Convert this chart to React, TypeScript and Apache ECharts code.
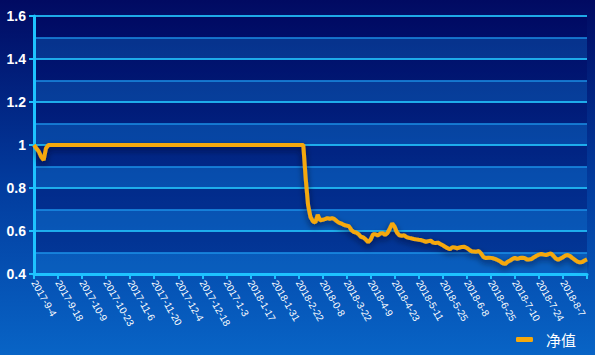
import React, { useEffect, useRef } from "react";
import * as echarts from "echarts";

const tickLabels = [
  "2017-9-4", "2017-9-18", "2017-10-9", "2017-10-23", "2017-11-6", "2017-11-20",
  "2017-12-4", "2017-12-18", "2017-1-3", "2018-1-17", "2018-1-31", "2018-2-22",
  "2018-0-8", "2018-3-22", "2018-4-9", "2018-4-23", "2018-5-11", "2018-5-25",
  "2018-6-8", "2018-6-25", "2018-7-10", "2018-7-24", "2018-8-7",
];

const seriesName = "净值";

// daily net value, one per trading day (index 0..230)
const netValues = [
  1.0, 0.985, 0.97, 0.945, 0.93, 0.985, 1.0, 1, 1, 1,
  1, 1, 1, 1, 1, 1, 1, 1, 1, 1,
  1, 1, 1, 1, 1, 1, 1, 1, 1, 1,
  1, 1, 1, 1, 1, 1, 1, 1, 1, 1,
  1, 1, 1, 1, 1, 1, 1, 1, 1, 1,
  1, 1, 1, 1, 1, 1, 1, 1, 1, 1,
  1, 1, 1, 1, 1, 1, 1, 1, 1, 1,
  1, 1, 1, 1, 1, 1, 1, 1, 1, 1,
  1, 1, 1, 1, 1, 1, 1, 1, 1, 1,
  1, 1, 1, 1, 1, 1, 1, 1, 1, 1,
  1, 1, 1, 1, 1, 1, 1, 1, 1, 1,
  1, 1, 1, 0.845, 0.72, 0.665, 0.645, 0.64, 0.675, 0.65,
  0.652, 0.655, 0.66, 0.657, 0.66, 0.655, 0.645, 0.638, 0.634, 0.628,
  0.625, 0.622, 0.605, 0.595, 0.593, 0.585, 0.573, 0.57, 0.56, 0.548,
  0.56, 0.585, 0.585, 0.58, 0.588, 0.59, 0.582, 0.59, 0.612, 0.635,
  0.62, 0.592, 0.58, 0.578, 0.58, 0.572, 0.568, 0.566, 0.563, 0.561,
  0.559, 0.558, 0.554, 0.55, 0.553, 0.555, 0.546, 0.544, 0.546, 0.54,
  0.534, 0.527, 0.52, 0.515, 0.525, 0.523, 0.52, 0.523, 0.526, 0.527,
  0.521, 0.513, 0.506, 0.505, 0.504, 0.507, 0.495, 0.478, 0.474, 0.476,
  0.475, 0.473, 0.469, 0.464, 0.458, 0.45, 0.447, 0.457, 0.463, 0.47,
  0.475, 0.47, 0.474, 0.476, 0.474, 0.468, 0.468, 0.47, 0.478, 0.485,
  0.49, 0.493, 0.49, 0.488, 0.492, 0.496, 0.485, 0.472, 0.466, 0.472,
  0.478, 0.486, 0.488, 0.483, 0.474, 0.466, 0.458, 0.454, 0.456, 0.463,
  0.468,
];

const yMin = 0.4;
const yMax = 1.6;

export default function App() {
  const ref = useRef<HTMLDivElement>(null);

  useEffect(() => {
    if (!ref.current) return;
    const chart = echarts.init(ref.current, undefined, { renderer: "svg" });
    const cyan = "#1ec3ff";
    chart.setOption({
      animation: false,
      backgroundColor: {
        type: "linear",
        x: 0, y: 0, x2: 0, y2: 1,
        colorStops: [
          { offset: 0, color: "#010a62" },
          { offset: 0.5, color: "#023a9c" },
          { offset: 1, color: "#0864c6" },
        ],
      },
      grid: { left: 34, right: 8, top: 16, bottom: 81, containLabel: false },
      legend: {
        data: [seriesName],
        right: 14,
        bottom: 3,
        icon: "roundRect",
        itemWidth: 17,
        itemHeight: 5,
        textStyle: {
          color: "#ffffff",
          fontSize: 15,
          fontFamily: "Noto Sans CJK SC",
          padding: [0, 0, 0, 8],
        },
      },
      xAxis: {
        type: "value",
        min: 0,
        max: netValues.length - 1,
        interval: 10,
        axisLine: { show: true, lineStyle: { color: cyan, width: 3 } },
        axisTick: { show: true, length: 5, lineStyle: { color: cyan, width: 2 } },
        splitLine: { show: false },
        axisLabel: {
          color: "#ffffff",
          fontSize: 10,
          fontFamily: "Liberation Sans",
          rotate: -60,
          margin: 7,
          showMaxLabel: true,
          hideOverlap: false,
          formatter: (v: number) => tickLabels[Math.round(v / 10)] ?? "",
        },
      },
      yAxis: [
        {
          type: "value",
          position: "left",
          min: yMin,
          max: yMax,
          interval: 0.1,
          axisLine: { show: false },
          axisTick: { show: false },
          axisLabel: { show: false },
          splitLine: { show: true, lineStyle: { color: "rgba(30,150,235,0.9)", width: 1.5 } },
          splitArea: {
            show: true,
            areaStyle: { color: ["rgba(20,130,220,0.28)", "rgba(0,0,90,0.28)"] },
          },
        },
        {
          type: "value",
          position: "left",
          offset: 0,
          min: yMin,
          max: yMax,
          interval: 0.2,
          axisLine: { show: true, lineStyle: { color: cyan, width: 3 } },
          axisTick: { show: true, length: 5, lineStyle: { color: cyan, width: 2 } },
          axisLabel: {
            color: "#ffffff",
            fontSize: 14,
            fontWeight: "bold",
            fontFamily: "Liberation Sans",
            margin: 8,
          },
          splitLine: { show: true, lineStyle: { color: "#22bff5", width: 1.5 } },
          splitArea: { show: false },
        },
      ],
      series: [
        {
          name: seriesName,
          type: "line",
          yAxisIndex: 1,
          data: netValues.map((v, i) => [i, v]),
          showSymbol: false,
          symbol: "none",
          smooth: false,
          lineStyle: {
            color: "#f5a80c",
            width: 4,
            shadowColor: "rgba(0,0,30,0.6)",
            shadowBlur: 6,
            shadowOffsetY: 3,
          },
          itemStyle: { color: "#f5a80c" },
        },
      ],
    });
    return () => chart.dispose();
  }, []);

  return (
    <div
      ref={ref}
      style={{ position: "fixed", left: 0, top: 0, width: 595, height: 355 }}
    />
  );
}
